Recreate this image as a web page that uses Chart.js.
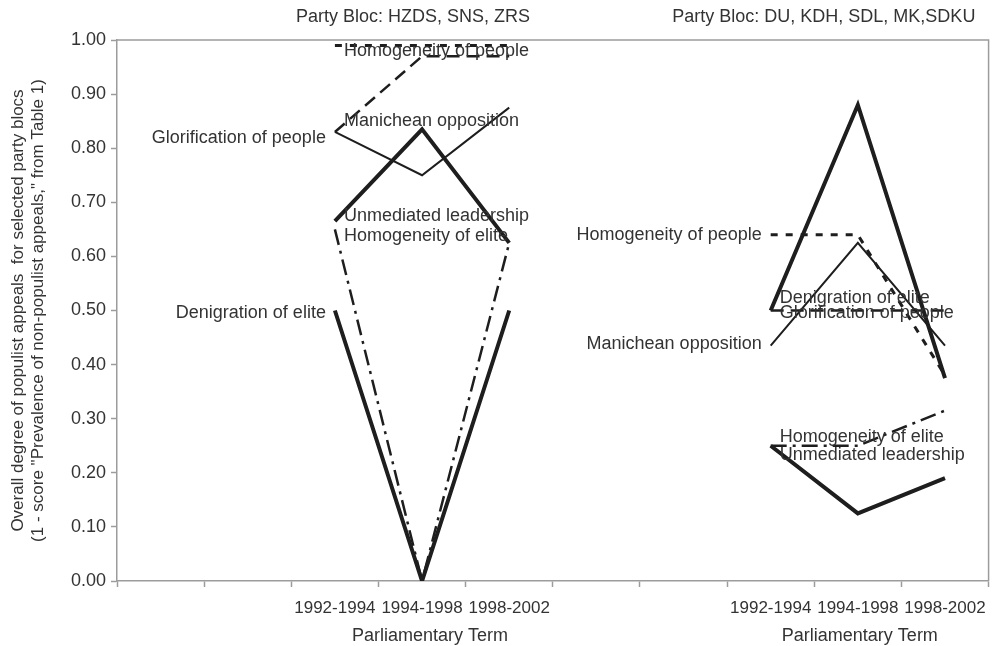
<!DOCTYPE html>
<html>
<head>
<meta charset="utf-8">
<script src="https://cdn.jsdelivr.net/npm/chart.js@4.4.1/dist/chart.umd.min.js"></script>
<style>
  html, body { margin: 0; padding: 0; background: #fff; }
  #wrap { width: 997px; height: 646px; }
</style>
</head>
<body>
<div id="wrap"><canvas id="myChart"></canvas></div>
<script>
// categories: two blocs of three terms, with empty slots as in the original sheet
const terms = ['', '', '1992-1994', '1994-1998', '1998-2002', '', '', '1992-1994', '1994-1998', '1998-2002'];
const blocTitles = ['Party Bloc: HZDS, SNS, ZRS', 'Party Bloc: DU, KDH, SDL, MK,SDKU'];
const xTitle = 'Parliamentary Term';
const yTitle = ['Overall degree of populist appeals  for selected party blocs',
                '(1 - score "Prevalence of non-populist appeals," from Table 1)'];

const seriesNames = ['Denigration of elite', 'Unmediated leadership', 'Manichean opposition',
                     'Glorification of people', 'Homogeneity of people', 'Homogeneity of elite'];

// [bloc 1, bloc 2], each in term order 1992-1994, 1994-1998, 1998-2002
const denigrationElite = [[0.50, 0.00, 0.50], [0.50, 0.88, 0.375]];
const unmediatedLeadership = [[0.665, 0.835, 0.625], [0.25, 0.125, 0.19]];
const manicheanOpposition = [[0.83, 0.75, 0.875], [0.435, 0.625, 0.435]];
const glorificationPeople = [[0.83, 0.97, 0.97], [0.50, 0.50, 0.50]];
const homogeneityPeople = [[0.99, 0.99, 0.99], [0.64, 0.64, 0.38]];
const homogeneityElite = [[0.65, 0.00, 0.625], [0.25, 0.25, 0.315]];

const seriesValues = [denigrationElite, unmediatedLeadership, manicheanOpposition,
                      glorificationPeople, homogeneityPeople, homogeneityElite];

const blocStart = [2, 7];   // first category index of each bloc

const lineColor = '#1e1e1e';
const textColor = '#333333';
const axisGray = '#9c9c9c';
const fontFamily = '"Liberation Sans", Arial, sans-serif';

const lineStyles = [
    { width: 4, dash: [] },
    { width: 4, dash: [] },
    { width: 2, dash: [] },
    { width: 2.5, dash: [13, 7] },
    { width: 3, dash: [7, 8] },
    { width: 2.5, dash: [16, 6, 3, 6] }
];

// where each data label sits next to the first point of a bloc
const labelSpots = [
    { series: 4, bloc: 0, side: 'right', dy: 6 },
    { series: 2, bloc: 0, side: 'right', dy: -11 },
    { series: 3, bloc: 0, side: 'left', dy: 6 },
    { series: 1, bloc: 0, side: 'right', dy: -5 },
    { series: 5, bloc: 0, side: 'right', dy: 7 },
    { series: 0, bloc: 0, side: 'left', dy: 3 },
    { series: 4, bloc: 1, side: 'left', dy: 0 },
    { series: 0, bloc: 1, side: 'right', dy: -12 },
    { series: 3, bloc: 1, side: 'right', dy: 3 },
    { series: 2, bloc: 1, side: 'left', dy: -2 },
    { series: 5, bloc: 1, side: 'right', dy: -9 },
    { series: 1, bloc: 1, side: 'right', dy: 9 }
];

const toRow = (blocs) => {
    const row = terms.map(() => null);
    blocs.forEach((vals, b) => vals.forEach((v, i) => { row[blocStart[b] + i] = v; }));
    return row;
};

const annotate = {
    id: 'annotate',
    afterDatasetsDraw(chart) {
        const c = chart.ctx;
        const area = chart.chartArea;
        const xs = chart.scales.x;
        c.save();
        // frame on top and right
        c.strokeStyle = axisGray;
        c.lineWidth = 1.5;
        c.beginPath();
        c.moveTo(area.left, area.top);
        c.lineTo(area.right, area.top);
        c.lineTo(area.right, area.bottom);
        c.stroke();

        c.font = '18px ' + fontFamily;
        c.fillStyle = textColor;
        c.textBaseline = 'middle';
        labelSpots.forEach(s => {
            const pt = chart.getDatasetMeta(s.series).data[blocStart[s.bloc]];
            const left = s.side === 'left';
            c.textAlign = left ? 'right' : 'left';
            c.fillText(seriesNames[s.series], pt.x + (left ? -9 : 9), pt.y + s.dy);
        });

        c.textAlign = 'center';
        const titleX = [xs.getPixelForValue(3) - 9, xs.getPixelForValue(8) - 34];
        const termX = [xs.getPixelForValue(3) + 8, xs.getPixelForValue(8) + 2];
        blocTitles.forEach((t, b) => c.fillText(t, titleX[b], 17));
        blocStart.forEach((s, b) => c.fillText(xTitle, termX[b], 636));
        c.restore();
    }
};

const ctx = document.getElementById('myChart').getContext('2d');
new Chart(ctx, {
    type: 'line',
    data: {
        labels: terms,
        datasets: seriesNames.map((name, i) => ({
            label: name,
            data: toRow(seriesValues[i]),
            borderColor: lineColor,
            borderWidth: lineStyles[i].width,
            borderDash: lineStyles[i].dash,
            borderJoinStyle: 'miter',
            pointRadius: 0,
            fill: false,
            tension: 0,
            spanGaps: false
        }))
    },
    options: {
        animation: false,
        responsive: true,
        maintainAspectRatio: false,
        layout: { padding: { top: 40, right: 7, left: 0, bottom: 0 } },
        plugins: {
            legend: { display: false },
            tooltip: { enabled: false }
        },
        scales: {
            x: {
                type: 'category',
                offset: true,
                grid: { offset: true, drawOnChartArea: false, tickLength: 6, tickColor: axisGray, tickWidth: 1.5 },
                border: { color: axisGray, width: 1.5 },
                ticks: {
                    autoSkip: false, maxRotation: 0, minRotation: 0, padding: 11,
                    color: textColor, font: { size: 17, family: fontFamily }
                },
                afterFit: s => { s.height = 65; }
            },
            y: {
                min: 0,
                max: 1,
                ticks: {
                    stepSize: 0.1, padding: 5,
                    callback: v => v.toFixed(2),
                    color: textColor, font: { size: 18, family: fontFamily }
                },
                grid: { drawOnChartArea: false, tickLength: 6, tickColor: axisGray, tickWidth: 1.5 },
                border: { color: axisGray, width: 1.5 },
                title: {
                    display: true,
                    text: yTitle,
                    color: textColor,
                    padding: { top: 8, bottom: 0 },
                    font: { size: 17, family: fontFamily, lineHeight: 1.18 }
                },
                afterFit: s => { s.width = 117; }
            }
        }
    },
    plugins: [annotate]
});
</script>
</body>
</html>
